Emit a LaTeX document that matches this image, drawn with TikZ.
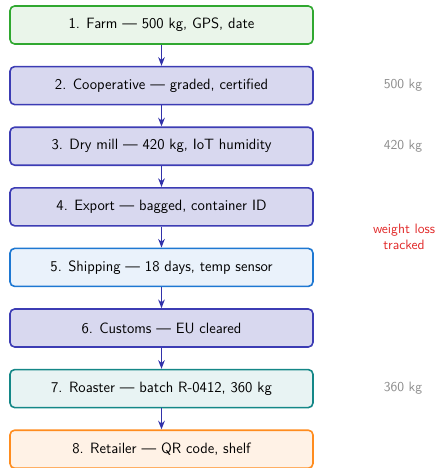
\documentclass[tikz,border=0pt]{standalone}
\usetikzlibrary{arrows.meta}
\definecolor{farmline}{RGB}{48,168,48}
\definecolor{farmfill}{RGB}{234,245,234}
\definecolor{stepline}{RGB}{60,60,180}
\definecolor{stepfill}{RGB}{216,216,239}
\definecolor{shipline}{RGB}{30,120,210}
\definecolor{shipfill}{RGB}{234,242,251}
\definecolor{roastline}{RGB}{20,135,135}
\definecolor{roastfill}{RGB}{232,243,243}
\definecolor{shopline}{RGB}{255,140,30}
\definecolor{shopfill}{RGB}{255,242,230}
\definecolor{flowarrow}{RGB}{50,50,170}
\definecolor{notegray}{RGB}{140,140,140}
\definecolor{notered}{RGB}{225,40,40}
\begin{document}
\begin{tikzpicture}[x=0.75pt,y=-0.75pt,
  stagebox/.style={draw, line width=1.2pt, rounded corners=3.5pt,
    minimum width=303*0.75pt, minimum height=38*0.75pt, inner sep=0pt,
    font=\sffamily\fontsize{11.2}{13.5}\selectfont},
  farm/.style={stagebox, draw=farmline, fill=farmfill},
  plain/.style={stagebox, draw=stepline, fill=stepfill},
  ship/.style={stagebox, draw=shipline, fill=shipfill},
  roast/.style={stagebox, draw=roastline, fill=roastfill},
  shop/.style={stagebox, draw=shopline, fill=shopfill},
  flow/.style={draw=flowarrow, line width=1.1pt, -{Stealth[length=6.5pt,width=5pt]}},
  weight/.style={font=\sffamily\fontsize{10.2}{12.5}\selectfont, text=notegray},
  lossnote/.style={font=\sffamily\fontsize{10.2}{12.5}\selectfont, text=notered, align=center}]
  \useasboundingbox (0,0) rectangle (437,468);
  % supply-chain stages, top to bottom
  \node[farm]  (s1) at (161.5,25.0)  {1. Farm --- 500 kg, GPS, date};
  \node[plain] (s2) at (161.5,85.6)  {2. Cooperative --- graded, certified};
  \node[plain] (s3) at (161.5,146.2) {3. Dry mill --- 420 kg, IoT humidity};
  \node[plain] (s4) at (161.5,206.8) {4. Export --- bagged, container ID};
  \node[ship]  (s5) at (161.5,267.4) {5. Shipping --- 18 days, temp sensor};
  \node[plain] (s6) at (161.5,328.0) {6. Customs --- EU cleared};
  \node[roast] (s7) at (161.5,388.6) {7. Roaster --- batch R-0412, 360 kg};
  \node[shop]  (s8) at (161.5,449.2) {8. Retailer --- QR code, shelf};
  \foreach \a/\b in {s1/s2,s2/s3,s3/s4,s4/s5,s5/s6,s6/s7,s7/s8}
    \draw[flow] (\a.south) -- (\b.north);
  % weights recorded along the way
  \node[weight] (w2) at (403,85.6)  {500 kg};
  \node[weight] (w3) at (403,146.2) {420 kg};
  \node[weight] (w7) at (403,388.6) {360 kg};
  \node[lossnote] (loss) at (404,237) {weight loss\\tracked};
\end{tikzpicture}
\end{document}
